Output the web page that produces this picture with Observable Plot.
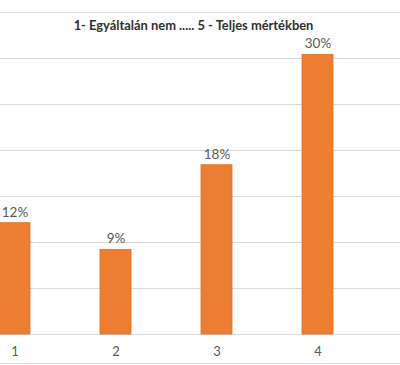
<!DOCTYPE html>
<html>
<head>
<meta charset="utf-8">
<script src="https://cdn.jsdelivr.net/npm/d3@7"></script>
<script src="https://cdn.jsdelivr.net/npm/@observablehq/plot@0.6"></script>
<style>
  html, body { margin: 0; padding: 0; background: #fff; }
  #chart { width: 400px; height: 365px; overflow: hidden; position: relative; }
  #chart svg { overflow: hidden; }
</style>
</head>
<body>
<div id="chart"></div>
<script>
const title = "1- Egyáltalán nem ..... 5 - Teljes mértékben";
const categories = ["1", "2", "3", "4", "5"];
const shownCategories = ["1", "2", "3", "4"];
const values = [12.1, 9.2, 18.4, 30.4];
const valueLabels = ["12%", "9%", "18%", "30%"];
const gridTicks = [0, 5, 10, 15, 20, 25, 30, 35];

const data = shownCategories.map((c, i) => ({cat: c, v: values[i], label: valueLabels[i]}));
const font = "Lato, 'Open Sans', sans-serif";

const chart = Plot.plot({
  width: 400,
  height: 365,
  marginTop: 12,
  marginBottom: 31,
  marginLeft: 0,
  marginRight: 0,
  style: {fontFamily: font, fontSize: "13px", color: "#595959", background: "#fff"},
  x: {type: "band", domain: categories, range: [-73, 506], padding: 0.695, label: null},
  y: {domain: [0, 35], label: null, axis: null},
  marks: [
    Plot.ruleY(gridTicks, {stroke: "#d9d9d9", strokeWidth: 1}),
    Plot.barY(data, {x: "cat", y: "v", fill: "#ed7d31", stroke: "#e07128", strokeWidth: 0.8}),
    Plot.text(data, {x: "cat", y: "v", text: "label", dy: -11, fill: "#595959", fontSize: 13.5, fontFamily: font}),
    Plot.axisX({ticks: shownCategories, tickSize: 0, tickPadding: 12, fontSize: 13, fill: "#595959", label: null, fontFamily: font}),
    Plot.text([title], {frameAnchor: "top", dy: 8, dx: -7, fontSize: 12.9, fontWeight: "bold", fill: "#303030", fontFamily: font}),
    Plot.ruleY([0], {stroke: "#d9d9d9", dy: 29})
  ]
});
document.getElementById("chart").appendChild(chart);
</script>
</body>
</html>
